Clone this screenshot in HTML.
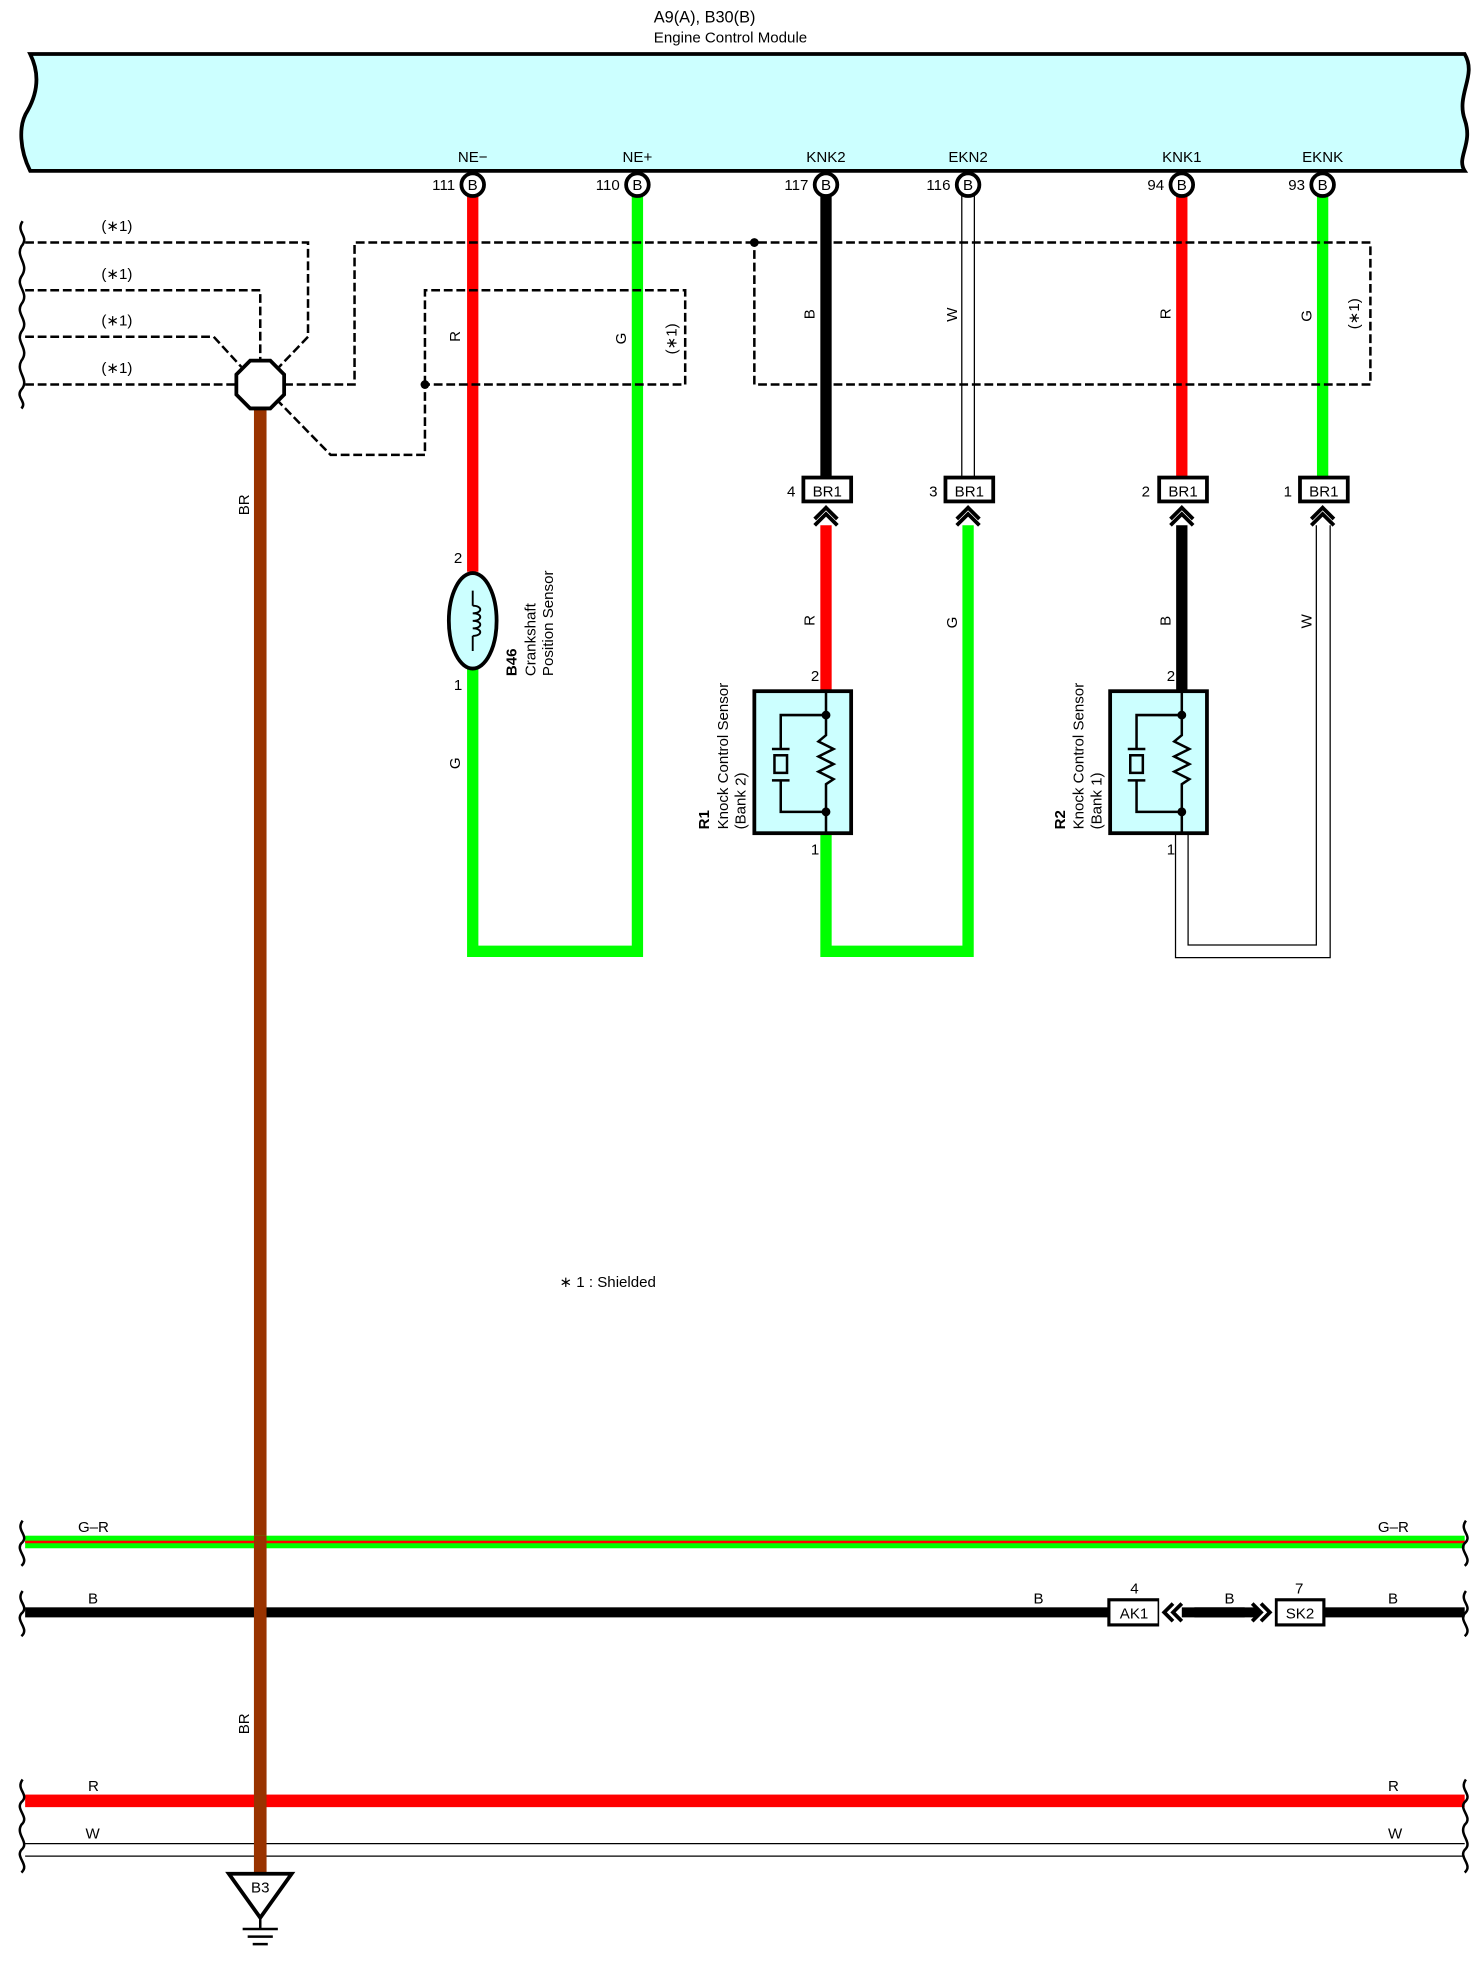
<!DOCTYPE html>
<html><head><meta charset="utf-8"><style>
html,body{margin:0;padding:0;background:#fff}
svg{display:block}
text{font-family:"Liberation Sans",sans-serif;font-size:12px;fill:#000}
</style></head><body>
<svg width="1476" height="1968" viewBox="0 0 1174 1566" preserveAspectRatio="none" xmlns="http://www.w3.org/2000/svg">
<defs>
<g id="chev"><path d="M-9,13 L0,4 L9,13 M-9,18 L0,9 L9,18" fill="none" stroke="#000" stroke-width="3"/></g>
</defs>
<path d="M24,43 L1165,43 C1175,60 1158,75 1165,95 C1172,115 1158,125 1165,136 L24,136 C16,120 14,100 22,88 C32,70 30,55 24,43 Z" fill="#ccffff" stroke="#000" stroke-width="3"/>
<text x="520" y="18" style="font-size:13px">A9(A), B30(B)</text>
<text x="520" y="34">Engine Control Module</text>
<g text-anchor="middle">
<text x="376" y="129">NE−</text><text x="507" y="129">NE+</text><text x="657" y="129">KNK2</text><text x="770" y="129">EKN2</text><text x="940" y="129">KNK1</text><text x="1052" y="129">EKNK</text>
</g>
<g text-anchor="end">
<text x="362" y="151">111</text><text x="493" y="151">110</text><text x="643" y="151">117</text><text x="756" y="151">116</text><text x="926" y="151">94</text><text x="1038" y="151">93</text>
</g>
<g fill="none" stroke-linejoin="miter">
<path d="M376,155 V455" stroke="#f00" stroke-width="9"/>
<path d="M376,532 V757 H507 V155" stroke="#0f0" stroke-width="9"/>
<path d="M657,155 V380" stroke="#000" stroke-width="9"/>
<path d="M657,418 V550" stroke="#f00" stroke-width="9"/>
<path d="M657,663 V757 H770 V418" stroke="#0f0" stroke-width="9"/>
<path d="M940,155 V380" stroke="#f00" stroke-width="9"/>
<path d="M940,418 V550" stroke="#000" stroke-width="9"/>
<path d="M1052,155 V380" stroke="#0f0" stroke-width="9"/>
<path d="M765,155 V380 M775,155 V380" stroke="#000" stroke-width="1"/>
<path d="M935,663 V762 H1058 V418" stroke="#000" stroke-width="1"/>
<path d="M945,663 V752 H1047 V418" stroke="#000" stroke-width="1"/>
<path d="M207,326 V1490" stroke="#993300" stroke-width="10"/>
</g>
<g fill="#fff" stroke="#000" stroke-width="3">
<circle cx="376" cy="147" r="9"/><circle cx="507" cy="147" r="9"/><circle cx="657" cy="147" r="9"/><circle cx="770" cy="147" r="9"/><circle cx="940" cy="147" r="9"/><circle cx="1052" cy="147" r="9"/>
</g>
<g text-anchor="middle" style="font-size:11px">
<text x="376" y="151">B</text><text x="507" y="151">B</text><text x="657" y="151">B</text><text x="770" y="151">B</text><text x="940" y="151">B</text><text x="1052" y="151">B</text>
</g>
<g fill="none" stroke="#000" stroke-width="2" stroke-dasharray="7,3">
<path d="M20,193 H245 V268 L222,292"/>
<path d="M20,231 H207 V287"/>
<path d="M20,268 H170 L192,292"/>
<path d="M20,306 H188"/>
<path d="M226,306 H282 V193 H1090 V306 H600 V193"/>
<path d="M338,306 V231 H545 V306 H338 V362 H263 L222,320"/>
</g>
<circle cx="600" cy="193" r="3.5"/><circle cx="338" cy="306" r="3.5"/>
<polygon points="199,287 215,287 226,298 226,314 215,325 199,325 188,314 188,298" fill="#fff" stroke="#000" stroke-width="3"/>
<g fill="none" stroke="#000" stroke-width="2">
<path d="M18,176 C12,185 24,188 17,196 C12,205 24,210 17,220 C12,228 24,233 17,242 C12,250 24,255 17,264 C12,272 24,278 17,287 C12,296 24,302 17,310 C12,316 22,320 17,325"/>
</g>
<g style="font-size:12px" text-anchor="middle">
<text x="93" y="184">(∗1)</text><text x="93" y="222">(∗1)</text><text x="93" y="259">(∗1)</text><text x="93" y="297">(∗1)</text>
</g>
<g style="font-size:11px">
<text transform="translate(366,272) rotate(-90)">R</text>
<text transform="translate(498,274) rotate(-90)">G</text>
<text transform="translate(538,282) rotate(-90)">(∗1)</text>
<text transform="translate(648,254) rotate(-90)">B</text>
<text transform="translate(761,256) rotate(-90)">W</text>
<text transform="translate(931,254) rotate(-90)">R</text>
<text transform="translate(1043,256) rotate(-90)">G</text>
<text transform="translate(1081,262) rotate(-90)">(∗1)</text>
<text transform="translate(198,410) rotate(-90)">BR</text>
<text transform="translate(198,1380) rotate(-90)">BR</text>
<text transform="translate(366,612) rotate(-90)">G</text>
<text transform="translate(648,498) rotate(-90)">R</text>
<text transform="translate(761,500) rotate(-90)">G</text>
<text transform="translate(931,498) rotate(-90)">B</text>
<text transform="translate(1043,500) rotate(-90)">W</text>
</g>
<g>
<rect x="639" y="380" width="38" height="19" fill="#fff" stroke="#000" stroke-width="3"/>
<rect x="752" y="380" width="38" height="19" fill="#fff" stroke="#000" stroke-width="3"/>
<rect x="922" y="380" width="38" height="19" fill="#fff" stroke="#000" stroke-width="3"/>
<rect x="1034" y="380" width="38" height="19" fill="#fff" stroke="#000" stroke-width="3"/>
<g text-anchor="middle" style="font-size:12px"><text x="658" y="395">BR1</text><text x="771" y="395">BR1</text><text x="941" y="395">BR1</text><text x="1053" y="395">BR1</text></g>
<text x="626" y="395">4</text><text x="739" y="395">3</text><text x="908" y="395">2</text><text x="1021" y="395">1</text>
<use href="#chev" x="657" y="400"/><use href="#chev" x="770" y="400"/><use href="#chev" x="940" y="400"/><use href="#chev" x="1052" y="400"/>
</g>
<ellipse cx="376" cy="494" rx="19" ry="38" fill="#ccffff" stroke="#000" stroke-width="3"/>
<path d="M376,470 V482 M376,506 V518 M376,482 c8,0 8,6 0,6 c8,0 8,6 0,6 c8,0 8,6 0,6 c8,0 8,6 0,6" fill="none" stroke="#000" stroke-width="1.5"/>
<text x="361" y="448">2</text><text x="361" y="549">1</text>
<text transform="translate(411,538) rotate(-90)" style="font-weight:bold">B46</text>
<text transform="translate(426,538) rotate(-90)">Crankshaft</text>
<text transform="translate(440,538) rotate(-90)">Position Sensor</text>
<g id="ks">
<rect x="600" y="550" width="77" height="113" fill="#ccffff" stroke="#000" stroke-width="3"/>
<path d="M657,550 V585 l-6,5 12,6 -12,6 12,6 -12,6 12,6 -6,4 V663 M657,569 H621 V596 M621,621 V646 H657 M614,596 H628 M614,621 H628" fill="none" stroke="#000" stroke-width="2"/>
<rect x="616" y="601" width="10" height="14" fill="none" stroke="#000" stroke-width="2"/>
<circle cx="657" cy="569" r="3.5"/><circle cx="657" cy="646" r="3.5"/>
</g>
<use href="#ks" x="283" y="0"/>
<text x="645" y="542">2</text><text x="645" y="680">1</text>
<text x="928" y="542">2</text><text x="928" y="680">1</text>
<text transform="translate(564,660) rotate(-90)" style="font-weight:bold">R1</text>
<text transform="translate(579,660) rotate(-90)">Knock Control Sensor</text>
<text transform="translate(593,660) rotate(-90)">(Bank 2)</text>
<text transform="translate(847,660) rotate(-90)" style="font-weight:bold">R2</text>
<text transform="translate(862,660) rotate(-90)">Knock Control Sensor</text>
<text transform="translate(876,660) rotate(-90)">(Bank 1)</text>
<text x="445" y="1024">∗ 1 : Shielded</text>
<rect x="20" y="1222" width="1145" height="10" fill="#0f0"/>
<rect x="20" y="1226" width="1145" height="2" fill="#f00"/>
<rect x="20" y="1279" width="1145" height="8" fill="#000"/>
<rect x="20" y="1428" width="1145" height="10" fill="#f00"/>
<path d="M20,1467 H1165 M20,1477 H1165" stroke="#000" stroke-width="1"/>
<path d="M207,1222 V1490" stroke="#993300" stroke-width="10"/>
<g fill="none" stroke="#000" stroke-width="2">
<path d="M18,1210 C12,1218 24,1222 17,1228 C12,1234 24,1240 17,1246"/>
<path d="M18,1266 C12,1274 24,1278 17,1284 C12,1290 24,1296 17,1302"/>
<path d="M18,1416 C12,1424 24,1428 17,1434 C12,1440 24,1446 17,1452 C12,1460 24,1466 17,1472 C12,1478 24,1484 17,1490"/>
<path d="M1166,1210 C1160,1218 1172,1222 1165,1228 C1160,1234 1172,1240 1165,1246"/>
<path d="M1166,1266 C1160,1274 1172,1278 1165,1284 C1160,1290 1172,1296 1165,1302"/>
<path d="M1166,1416 C1160,1424 1172,1428 1165,1434 C1160,1440 1172,1446 1165,1452 C1160,1460 1172,1466 1165,1472 C1160,1478 1172,1484 1165,1490"/>
</g>
<text x="62" y="1219">G–R</text><text x="1096" y="1219">G–R</text>
<text x="70" y="1276">B</text><text x="822" y="1276">B</text><text x="974" y="1276">B</text><text x="1104" y="1276">B</text>
<text x="70" y="1425">R</text><text x="1104" y="1425">R</text>
<text x="68" y="1463">W</text><text x="1104" y="1463">W</text>
<rect x="882" y="1273" width="40" height="20" fill="#fff" stroke="#000" stroke-width="2.5"/>
<rect x="1015" y="1273" width="38" height="20" fill="#fff" stroke="#000" stroke-width="2.5"/>
<rect x="922" y="1270" width="28" height="26" fill="#fff"/>
<rect x="990" y="1270" width="24" height="26" fill="#fff"/>
<path d="M933,1276 L926,1283 L933,1290 M940,1276 L933,1283 L940,1290 M996,1276 L1003,1283 L996,1290 M1003,1276 L1010,1283 L1003,1290" fill="none" stroke="#000" stroke-width="3"/>
<path d="M940,1283 H1001" stroke="#000" stroke-width="8"/>
<text x="902" y="1288" text-anchor="middle">AK1</text><text x="1034" y="1288" text-anchor="middle">SK2</text>
<text x="899" y="1268">4</text><text x="1030" y="1268">7</text>
<polygon points="182,1491 232,1491 207,1526" fill="#fff" stroke="#000" stroke-width="3"/>
<text x="207" y="1506" text-anchor="middle">B3</text>
<path d="M207,1526 V1535 M193,1535 H221 M197,1541 H217 M201,1547 H213" stroke="#000" stroke-width="2"/>
</svg>
</body></html>
